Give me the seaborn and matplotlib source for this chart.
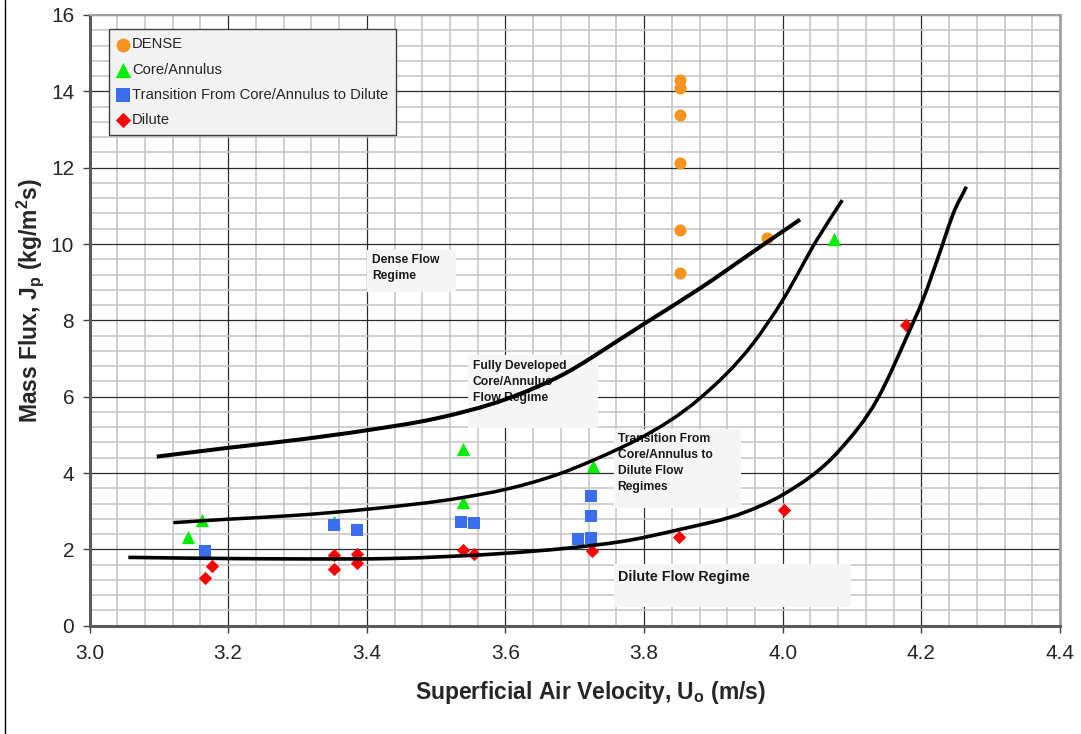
import numpy as np
import pandas as pd
import seaborn as sns
import matplotlib.pyplot as plt
from matplotlib.ticker import MultipleLocator, FormatStrFormatter
from matplotlib.lines import Line2D
from matplotlib.path import Path
from matplotlib.patches import PathPatch

# ---- measured flow-regime observations ----
dense_x = [3.852, 3.852, 3.852, 3.852, 3.852, 3.852, 3.978]
dense_y = [14.31, 14.10, 13.38, 12.13, 10.37, 9.23, 10.15]

core_x = [3.142, 3.162, 3.353, 3.539, 3.539, 3.726, 4.074]
core_y = [2.33, 2.77, 2.72, 4.62, 3.25, 4.19, 10.12]

trans_x = [3.167, 3.353, 3.386, 3.536, 3.554, 3.704, 3.723, 3.723, 3.723]
trans_y = [1.96, 2.64, 2.52, 2.71, 2.69, 2.27, 2.31, 2.87, 3.40]

dilute_x = [3.167, 3.177, 3.353, 3.353, 3.386, 3.386, 3.539, 3.554, 3.725,
            3.851, 4.002, 4.178]
dilute_y = [1.24, 1.56, 1.85, 1.48, 1.87, 1.65, 1.98, 1.88, 1.96,
            2.32, 3.04, 7.89]

# ---- hand-drawn regime boundaries (knots of each freehand curve) ----
dense_core_x = [3.097, 3.200, 3.304, 3.400, 3.500, 3.600, 3.683, 3.765,
                3.801, 3.880, 3.967, 4.025]
dense_core_y = [4.43, 4.66, 4.88, 5.12, 5.43, 5.93, 6.58, 7.50,
                7.92, 8.83, 9.92, 10.64]

core_trans_x = [3.121, 3.200, 3.304, 3.400, 3.539, 3.602, 3.678, 3.726,
                3.765, 3.794, 3.880, 3.957, 4.000, 4.049, 4.086]
core_trans_y = [2.70, 2.79, 2.90, 3.05, 3.36, 3.58, 3.98, 4.33,
                4.65, 4.91, 5.95, 7.39, 8.53, 10.10, 11.15]

trans_dilute_x = [3.056, 3.200, 3.304, 3.433, 3.602, 3.688, 3.779, 3.851,
                  3.945, 4.000, 4.082, 4.137, 4.178, 4.202, 4.231, 4.246, 4.265]
trans_dilute_y = [1.79, 1.76, 1.75, 1.76, 1.90, 2.03, 2.24, 2.52,
                  2.97, 3.43, 4.60, 5.95, 7.53, 8.53, 10.01, 10.80, 11.50]

series_names = ["DENSE", "Core/Annulus",
                "Transition From Core/Annulus to Dilute", "Dilute"]


def smooth_path(xs, ys):
    """Cubic Hermite path through every knot, tangents from spacing-weighted secants."""
    x = np.asarray(xs, float)
    y = np.asarray(ys, float)
    h = np.diff(x)
    d = np.diff(y) / h
    m = np.empty_like(x)
    m[0], m[-1] = d[0], d[-1]
    m[1:-1] = (d[:-1] * h[1:] + d[1:] * h[:-1]) / (h[:-1] + h[1:])
    verts = [(x[0], y[0])]
    codes = [Path.MOVETO]
    for i in range(len(h)):
        verts += [(x[i] + h[i] / 3, y[i] + m[i] * h[i] / 3),
                  (x[i + 1] - h[i] / 3, y[i + 1] - m[i + 1] * h[i] / 3),
                  (x[i + 1], y[i + 1])]
        codes += [Path.CURVE4] * 3
    return Path(verts, codes)


sns.set_theme(style="white")
plt.rcParams["font.family"] = ["Liberation Sans", "DejaVu Sans"]
plt.rcParams["mathtext.fontset"] = "custom"
plt.rcParams["mathtext.rm"] = "Liberation Sans"
plt.rcParams["mathtext.bf"] = "Liberation Sans:bold"

fig = plt.figure(figsize=(10.81, 7.34), dpi=100)
ax = fig.add_axes([89.5 / 1081, 1 - 625.7 / 734, 970.5 / 1081, 610.7 / 734])

# scatter series
styles = [
    (dense_x, dense_y, "o", "#F7931E", 76),
    (core_x, core_y, "^", "#00EE00", 92),
    (trans_x, trans_y, "s", "#3A6EEF", 74),
    (dilute_x, dilute_y, "D", "#FF0000", 46),
]
for name, (xs, ys, mk, col, size) in zip(series_names, styles):
    sns.scatterplot(x=xs, y=ys, marker=mk, color=col, s=size, linewidth=0,
                    label=name, ax=ax, zorder=3)

# regime text boxes
box_kw = dict(facecolor="#F5F5F5", edgecolor="none")
boxes = [
    ((3.3997, 8.75), 0.1288, 1.09, "Dense Flow\nRegime", 8.7, (3.4073, 9.75)),
    ((3.5462, 5.17), 0.1874, 1.92, "Fully Developed\nCore/Annulus\nFlow Regime",
     8.7, (3.5529, 6.97)),
    ((3.7567, 3.074), 0.1827, 2.07,
     "Transition From\nCore/Annulus to\nDilute Flow\nRegimes", 8.7, (3.762, 5.06)),
    ((3.7567, 0.482), 0.3413, 1.126, "Dilute Flow Regime", 10.3, (3.763, 1.47)),
]
for (bx, by), bw, bh, txt, fs, (tx, ty) in boxes:
    ax.add_patch(plt.Rectangle((bx, by), bw, bh, zorder=4, **box_kw))
    ax.text(tx, ty, txt, fontsize=fs, fontweight="bold", color="#1a1a1a",
            va="top", ha="left", linespacing=1.45, zorder=4.5)

# boundary curves
for xs, ys, lw in [(dense_core_x, dense_core_y, 2.9),
                   (core_trans_x, core_trans_y, 2.5),
                   (trans_dilute_x, trans_dilute_y, 2.6)]:
    ax.add_patch(PathPatch(smooth_path(xs, ys), facecolor="none",
                           edgecolor="black", linewidth=lw, zorder=5,
                           capstyle="butt", joinstyle="round"))

# axes, grid and ticks
ax.set_xlim(3.0, 4.4)
ax.set_ylim(0, 16)
ax.xaxis.set_major_locator(MultipleLocator(0.2))
ax.xaxis.set_minor_locator(MultipleLocator(0.04))
ax.yaxis.set_major_locator(MultipleLocator(2))
ax.yaxis.set_minor_locator(MultipleLocator(0.4))
ax.xaxis.set_major_formatter(FormatStrFormatter("%.1f"))
ax.yaxis.set_major_formatter(FormatStrFormatter("%d"))
ax.grid(which="minor", color="#C4C4C4", linewidth=1.1, zorder=0)
ax.grid(which="major", color="#2b2b2b", linewidth=0.9, zorder=0.5)
ax.set_axisbelow(True)
ax.tick_params(which="major", direction="out", length=5, width=1,
               color="#404040", labelsize=15, pad=6, left=True, bottom=True)
ax.tick_params(axis="x", pad=8)
ax.tick_params(which="minor", length=0)
for side, col, lw in [("left", "#5a5a5a", 2.2), ("bottom", "#5a5a5a", 2.2),
                      ("right", "#a0a0a0", 2.0), ("top", "#a0a0a0", 1.5)]:
    ax.spines[side].set_visible(True)
    ax.spines[side].set_color(col)
    ax.spines[side].set_linewidth(lw)

ax.set_xlabel(r"Superficial Air Velocity, U$_\mathbf{o}$ (m/s)",
              fontsize=16.5, fontweight="bold")
ax.set_ylabel(r"Mass Flux, J$_\mathbf{p}$ (kg/m$^\mathbf{2}$s)",
              fontsize=16.5, fontweight="bold")
ax.xaxis.set_label_coords(0.516, -0.088)
ax.yaxis.set_label_coords(-0.045, 0.532)

leg = ax.legend(loc="upper left", bbox_to_anchor=(0.0204, 0.9766),
                borderaxespad=0, fontsize=10.6, frameon=True, fancybox=False,
                framealpha=1, facecolor="#F2F2F2", edgecolor="#404040",
                handlelength=0.8, handletextpad=0.2, labelspacing=0.76,
                borderpad=0.55, markerscale=1.15)
leg.get_frame().set_linewidth(1.0)
leg.set_zorder(6)

# chart-area border on the left edge
fig.add_artist(Line2D([5 / 1081, 5 / 1081], [0, 1], color="black",
                      linewidth=1.0, transform=fig.transFigure))

fig.savefig("out.png", dpi=100, facecolor="white")
